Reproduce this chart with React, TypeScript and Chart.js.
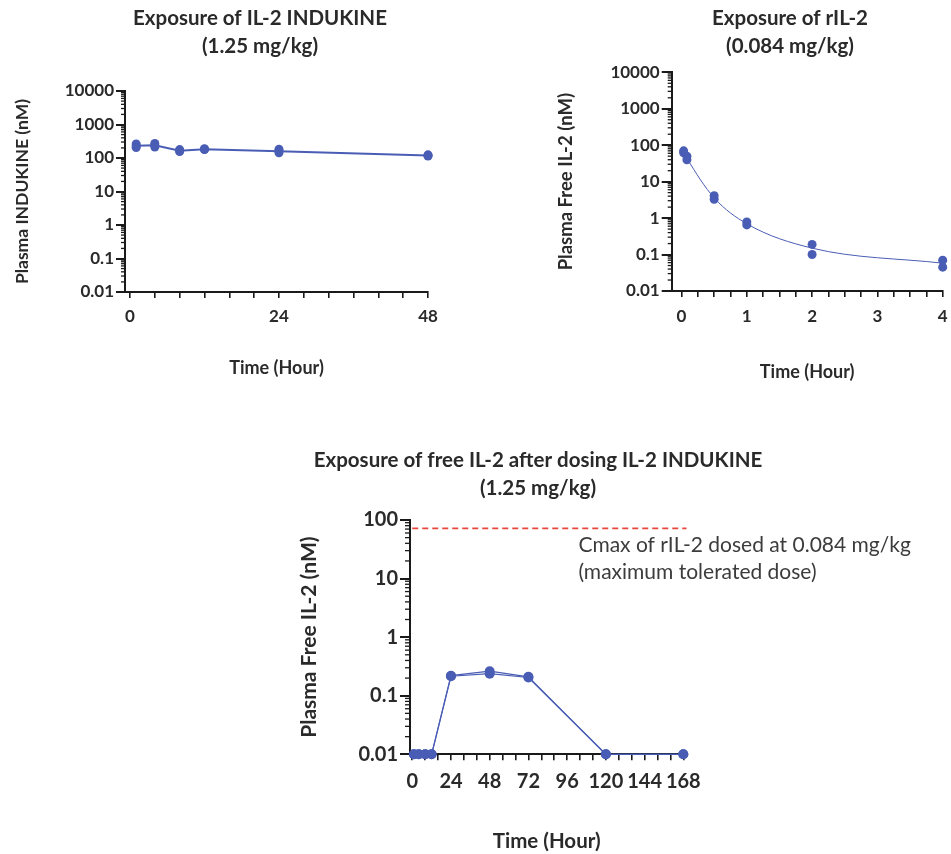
import React, { useEffect, useRef } from 'react';
import { Chart, registerables } from 'chart.js';

Chart.register(...registerables);

const FONT = "Lato, 'Open Sans', sans-serif";
const BLUE = '#4a5db5';
const INK = '#1a1a1a';
const TEXT = '#2a2a2a';
const RED = '#e8463c';

// ---------- Chart 1: IL-2 INDUKINE exposure ----------
const TITLE_1 = ['Exposure of IL-2 INDUKINE', '(1.25 mg/kg)'];
const Y_TITLE_1 = 'Plasma INDUKINE (nM)';
const TIME_1 = [1, 4, 8, 12, 24, 48];
const INDUKINE_REPS = [
  [262, 228, 205],
  [272, 240, 212],
  [178, 165, 155],
  [190, 182, 178],
  [182, 160, 143],
  [124, 118, 115],
];
const INDUKINE_MEAN = [231, 241, 166, 183, 160, 119];
const X_TICKS_1 = [0, 4, 8, 12, 16, 20, 24, 28, 32, 36, 40, 44, 48];
const X_LABELS_1 = [0, 24, 48];
const Y_TICKS_TOP = [0.01, 0.1, 1, 10, 100, 1000, 10000];

// ---------- Chart 2: rIL-2 exposure ----------
const TITLE_2 = ['Exposure of rIL-2', '(0.084 mg/kg)'];
const Y_TITLE_2 = 'Plasma Free IL-2 (nM)';
const TIME_2 = [0.033, 0.083, 0.5, 1, 2, 4];
const RIL2_REPS = [
  [70, 62],
  [50, 40],
  [4.1, 3.3],
  [0.78, 0.65],
  [0.19, 0.1],
  [0.07, 0.045],
];
const RIL2_MEAN = [65, 44, 3.6, 0.7, 0.15, 0.058];
const X_TICKS_2 = [0, 0.25, 0.5, 0.75, 1, 1.25, 1.5, 1.75, 2, 2.25, 2.5, 2.75, 3, 3.25, 3.5, 3.75, 4];
const X_LABELS_2 = [0, 1, 2, 3, 4];

// ---------- Chart 3: free IL-2 after INDUKINE ----------
const TITLE_3 = ['Exposure of free IL-2 after dosing IL-2 INDUKINE', '(1.25 mg/kg)'];
const Y_TITLE_3 = 'Plasma Free IL-2 (nM)';
const TIME_3 = [1, 4, 8, 12, 24, 48, 72, 120, 168];
const FREE_IL2_A = [0.01, 0.01, 0.01, 0.01, 0.22, 0.262, 0.21, 0.01, 0.01];
const FREE_IL2_B = [0.01, 0.01, 0.01, 0.01, 0.215, 0.238, 0.205, 0.01, 0.01];
const CMAX_RIL2 = 72;
const CMAX_SPAN = [0, 170];
const CMAX_NOTE = ['Cmax of rIL-2 dosed at 0.084 mg/kg', '(maximum tolerated dose)'];
const X_TICKS_3 = [0, 8, 16, 24, 32, 40, 48, 56, 64, 72, 80, 88, 96, 104, 112, 120, 128, 136, 144, 152, 160, 168];
const X_LABELS_3 = [0, 24, 48, 72, 96, 120, 144, 168];
const Y_TICKS_3 = [0.01, 0.1, 1, 10, 100];

const X_TITLE = 'Time (Hour)';

// minor log ticks on the y axis
const minorTicks = {
  id: 'minorTicks',
  afterDraw(chart: any, _a: any, opts: any) {
    const y = chart.scales.y;
    const ctx = chart.ctx;
    const len = opts.length || 4;
    ctx.save();
    ctx.strokeStyle = INK;
    ctx.lineWidth = 1.3;
    const e0 = Math.round(Math.log10(y.min));
    const e1 = Math.round(Math.log10(y.max));
    for (let e = e0; e < e1; e++) {
      for (let m = 2; m <= 9; m++) {
        const v = m * Math.pow(10, e);
        const py = y.getPixelForValue(v);
        ctx.beginPath();
        ctx.moveTo(y.right - len, py);
        ctx.lineTo(y.right, py);
        ctx.stroke();
      }
    }
    ctx.restore();
  },
};

const notePlugin = {
  id: 'note',
  afterDraw(chart: any, _a: any, opts: any) {
    if (!opts || !opts.lines) return;
    const ctx = chart.ctx;
    const x = chart.scales.x.getPixelForValue(opts.atX);
    const y0 = chart.scales.y.getPixelForValue(opts.atY);
    ctx.save();
    ctx.font = `${opts.size}px ${FONT}`;
    ctx.fillStyle = '#3c3c3c';
    ctx.textBaseline = 'middle';
    ctx.textAlign = 'left';
    opts.lines.forEach((l: string, i: number) => ctx.fillText(l, x, y0 + opts.dy + i * opts.lh));
    ctx.restore();
  },
};

type Geo = {
  padLeft: number;
  padRight: number;
  yW: number;
  rightW: number;
  xH: number;
  titleSize: number;
  titlePadTop: number;
  titlePadBottom: number;
  xTitleSize: number;
  yTitleSize: number;
  xTitlePadBottom: number;
  tickSize: number;
  xTickPad: number;
  yTickPad: number;
  yTickLen: number;
  xTickLen: number;
  minorLen: number;
};

const TITLE_LINE = 28.8;

function makeConfig(
  geo: Geo,
  datasets: any[],
  title: string[],
  yTitle: string,
  x: { min: number; max: number; ticks: number[]; labels: number[] },
  y: { min: number; max: number; ticks: number[] },
  extraPlugins: any[] = [],
  extraOpts: any = {}
): any {
  const tickFont = { family: FONT, size: geo.tickSize, weight: 'bold' as const };
  return {
    type: 'line',
    data: { datasets },
    plugins: [minorTicks, ...extraPlugins],
    options: {
      responsive: false,
      animation: false,
      devicePixelRatio: 1,
      layout: { padding: { left: geo.padLeft, right: geo.padRight, top: 0, bottom: 0 } },
      plugins: {
        legend: { display: false },
        tooltip: { enabled: false },
        title: {
          display: true,
          text: title,
          color: TEXT,
          font: { family: FONT, size: geo.titleSize, weight: 'bold', lineHeight: TITLE_LINE / geo.titleSize },
          padding: { top: geo.titlePadTop, bottom: geo.titlePadBottom },
        },
        minorTicks: { length: geo.minorLen },
        ...extraOpts,
      },
      scales: {
        x: {
          type: 'linear',
          position: 'bottom',
          min: x.min,
          max: x.max,
          bounds: 'data',
          afterBuildTicks: (s: any) => {
            s.ticks = x.ticks.map((v) => ({ value: v }));
          },
          afterFit: (s: any) => {
            s.height = geo.xH;
          },
          grid: {
            display: true,
            drawOnChartArea: false,
            drawTicks: true,
            tickLength: geo.xTickLen,
            color: INK,
            lineWidth: 1.6,
          },
          border: { display: true, color: INK, width: 2 },
          ticks: {
            autoSkip: false,
            maxRotation: 0,
            minRotation: 0,
            padding: geo.xTickPad,
            color: TEXT,
            font: tickFont,
            callback: (v: number) => (x.labels.includes(v) ? String(v) : ''),
          },
          title: {
            display: true,
            text: X_TITLE,
            color: TEXT,
            font: { family: FONT, size: geo.xTitleSize, weight: 'bold', lineHeight: 1.2 },
            padding: { top: 0, bottom: geo.xTitlePadBottom },
          },
        },
        y: {
          type: 'logarithmic',
          position: 'left',
          min: y.min,
          max: y.max,
          afterBuildTicks: (s: any) => {
            s.ticks = y.ticks.map((v) => ({ value: v }));
          },
          afterFit: (s: any) => {
            s.width = geo.yW;
          },
          grid: {
            display: true,
            drawOnChartArea: false,
            drawTicks: true,
            tickLength: geo.yTickLen,
            color: INK,
            lineWidth: 2,
          },
          border: { display: true, color: INK, width: 2 },
          ticks: {
            autoSkip: false,
            padding: geo.yTickPad,
            color: TEXT,
            font: tickFont,
            callback: (v: number) => String(v),
          },
          title: {
            display: true,
            text: yTitle,
            color: TEXT,
            font: { family: FONT, size: geo.yTitleSize, weight: 'bold', lineHeight: 1.2 },
            padding: { top: 0, bottom: 0 },
          },
        },
        pad: {
          type: 'linear',
          position: 'right',
          display: true,
          grid: { display: false, drawTicks: false },
          border: { display: false },
          ticks: { display: false },
          afterFit: (s: any) => {
            s.width = geo.rightW;
          },
        },
      },
    },
  };
}

const pointsDs = (times: number[], reps: number[][], r: number) => ({
  data: times.flatMap((t, i) => reps[i].map((v) => ({ x: t, y: v }))),
  showLine: false,
  pointRadius: r,
  pointBackgroundColor: BLUE,
  pointBorderColor: BLUE,
  pointBorderWidth: 0,
  clip: false,
});

const lineDs = (times: number[], vals: number[], width: number, smooth: boolean, r = 0) => ({
  data: times.map((t, i) => ({ x: t, y: vals[i] })),
  borderColor: BLUE,
  borderWidth: width,
  pointRadius: r,
  pointBackgroundColor: BLUE,
  pointBorderColor: BLUE,
  pointBorderWidth: 0,
  cubicInterpolationMode: smooth ? 'monotone' : 'default',
  tension: 0,
  fill: false,
  clip: false,
});

function config1() {
  const geo: Geo = {
    padLeft: 12, padRight: 0, yW: 113, rightW: 80, xH: 98,
    titleSize: 20.5, titlePadTop: 3.6, titlePadBottom: 29.8,
    xTitleSize: 18, yTitleSize: 17.5, xTitlePadBottom: 11.2,
    tickSize: 17, xTickPad: 8.8, yTickPad: 2, yTickLen: 9, xTickLen: 6, minorLen: 4,
  };
  return makeConfig(
    geo,
    [pointsDs(TIME_1, INDUKINE_REPS, 4.5), lineDs(TIME_1, INDUKINE_MEAN, 2, false)],
    TITLE_1,
    Y_TITLE_1,
    { min: -0.8, max: 48, ticks: X_TICKS_1, labels: X_LABELS_1 },
    { min: 0.01, max: 10000, ticks: Y_TICKS_TOP }
  );
}

function config2() {
  const geo: Geo = {
    padLeft: 0, padRight: 0, yW: 116.7, rightW: 82.3, xH: 99,
    titleSize: 20.5, titlePadTop: 3.6, titlePadBottom: 11.1,
    xTitleSize: 18, yTitleSize: 18.5, xTitlePadBottom: 7.2,
    tickSize: 17, xTickPad: 9.8, yTickPad: 2, yTickLen: 10, xTickLen: 6, minorLen: 4,
  };
  return makeConfig(
    geo,
    [pointsDs(TIME_2, RIL2_REPS, 4.5), lineDs(TIME_2, RIL2_MEAN, 1, true)],
    TITLE_2,
    Y_TITLE_2,
    { min: -0.15, max: 4, ticks: X_TICKS_2, labels: X_LABELS_2 },
    { min: 0.01, max: 10000, ticks: Y_TICKS_TOP }
  );
}

function config3() {
  const geo: Geo = {
    padLeft: 0, padRight: 172, yW: 113, rightW: 95.7, xH: 99.7,
    titleSize: 20.5, titlePadTop: 5.6, titlePadBottom: 16.8,
    xTitleSize: 20.5, yTitleSize: 21, xTitlePadBottom: 0,
    tickSize: 20, xTickPad: 9.7, yTickPad: 2, yTickLen: 10, xTickLen: 6, minorLen: 5,
  };
  const cmax = {
    data: CMAX_SPAN.map((t) => ({ x: t, y: CMAX_RIL2 })),
    borderColor: RED,
    borderWidth: 1.6,
    borderDash: [6, 4],
    pointRadius: 0,
    fill: false,
    clip: false,
  };
  return makeConfig(
    geo,
    [lineDs(TIME_3, FREE_IL2_A, 1.2, false, 5), lineDs(TIME_3, FREE_IL2_B, 1.2, false, 5), cmax],
    TITLE_3,
    Y_TITLE_3,
    { min: -1.4, max: 168, ticks: X_TICKS_3, labels: X_LABELS_3 },
    { min: 0.01, max: 100, ticks: Y_TICKS_3 },
    [notePlugin],
    { note: { lines: CMAX_NOTE, atX: 103, atY: CMAX_RIL2, dy: 17, lh: 27, size: 21 } }
  );
}

export default function App() {
  const r1 = useRef<HTMLCanvasElement>(null);
  const r2 = useRef<HTMLCanvasElement>(null);
  const r3 = useRef<HTMLCanvasElement>(null);

  useEffect(() => {
    const charts = [
      new Chart(r1.current as HTMLCanvasElement, config1()),
      new Chart(r2.current as HTMLCanvasElement, config2()),
      new Chart(r3.current as HTMLCanvasElement, config3()),
    ];
    return () => charts.forEach((c) => c.destroy());
  }, []);

  return (
    <div
      style={{
        position: 'absolute',
        left: 0,
        top: 0,
        width: 951,
        height: 854,
        overflow: 'hidden',
        background: '#ffffff',
      }}
    >
      <canvas ref={r1} width={508} height={390} style={{ position: 'absolute', left: 0, top: 0 }} />
      <canvas ref={r2} width={470} height={390} style={{ position: 'absolute', left: 555, top: 0 }} />
      <canvas ref={r3} width={654} height={414} style={{ position: 'absolute', left: 297, top: 440 }} />
    </div>
  );
}
